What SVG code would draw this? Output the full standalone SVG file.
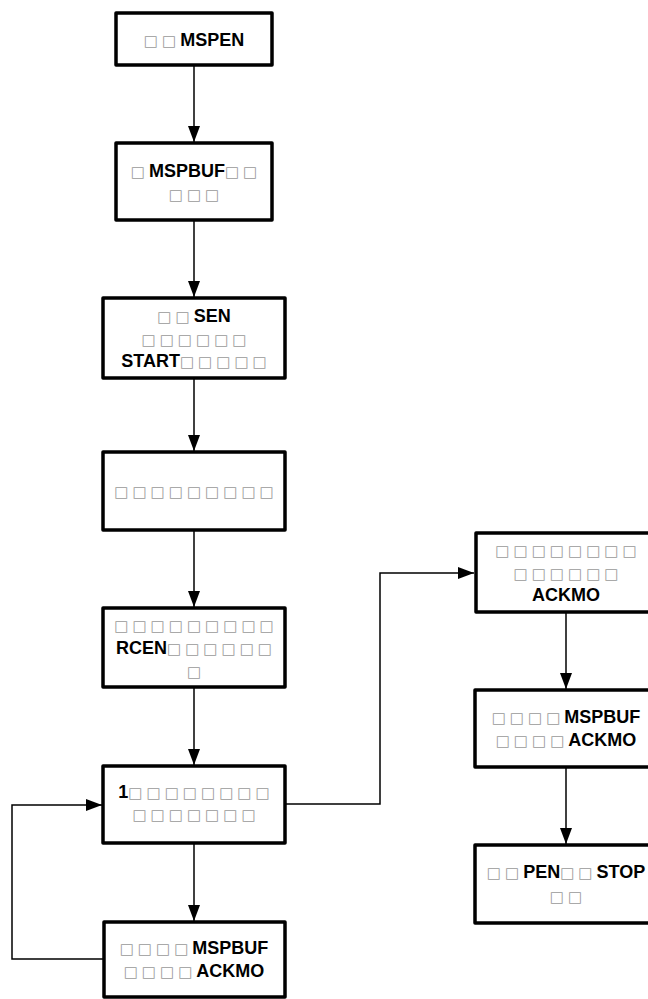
<svg xmlns="http://www.w3.org/2000/svg" width="648" height="999" viewBox="0 0 648 999">
<defs>
<style>
.box{fill:#fff;stroke:#000;stroke-width:3.5;stroke-linejoin:round}
.ln{fill:none;stroke:#000;stroke-width:1.5}
text{font-family:"Liberation Sans",Arial,sans-serif;font-weight:bold;font-size:18px;fill:#000;text-anchor:middle}
.t{font-family:"DejaVu Sans",sans-serif;font-weight:normal;font-size:15px;fill:#9a9a9a;letter-spacing:4px}
</style>
<marker id="ah" viewBox="0 0 16 12" refX="16" refY="6" markerWidth="16" markerHeight="12" markerUnits="userSpaceOnUse" orient="auto">
<path d="M0,0 L16,6 L0,12 Z" fill="#000"/>
</marker>
</defs>
<rect width="648" height="999" fill="#fff"/>
<g id="connectors">
<line class="ln" x1="194" y1="65" x2="194" y2="142" marker-end="url(#ah)"/>
<line class="ln" x1="194" y1="220" x2="194" y2="297" marker-end="url(#ah)"/>
<line class="ln" x1="194" y1="378" x2="194" y2="451" marker-end="url(#ah)"/>
<line class="ln" x1="194" y1="530" x2="194" y2="607" marker-end="url(#ah)"/>
<line class="ln" x1="194" y1="687" x2="194" y2="765" marker-end="url(#ah)"/>
<line class="ln" x1="194" y1="843" x2="194" y2="921" marker-end="url(#ah)"/>
<polyline class="ln" points="104,959 12,959 12,805 102,805" marker-end="url(#ah)"/>
<polyline class="ln" points="285,804 380,804 380,573 474,573" marker-end="url(#ah)"/>
<line class="ln" x1="566" y1="612" x2="566" y2="689" marker-end="url(#ah)"/>
<line class="ln" x1="566" y1="767" x2="566" y2="844" marker-end="url(#ah)"/>
</g>
<g id="n1"><rect class="box" x="116" y="13" width="156" height="52"/>
<text x="194" y="46"><tspan class="t">□□</tspan>MSPEN</text></g>
<g id="n2"><rect class="box" x="116" y="143" width="156" height="77"/>
<text x="196" y="177"><tspan class="t">□</tspan>MSPBUF<tspan class="t">□□</tspan></text>
<text x="196" y="200"><tspan class="t">□□□</tspan></text></g>
<g id="n3"><rect class="box" x="103" y="298" width="182" height="80"/>
<text x="194" y="322"><tspan class="t">□□</tspan>SEN</text>
<text x="196" y="345"><tspan class="t">□□□□□□</tspan></text>
<text x="196" y="367">START<tspan class="t">□□□□□</tspan></text></g>
<g id="n4"><rect class="box" x="103" y="452" width="182" height="78"/>
<text x="196" y="497"><tspan class="t">□□□□□□□□□</tspan></text></g>
<g id="n5"><rect class="box" x="103" y="608" width="182" height="79"/>
<text x="196" y="631"><tspan class="t">□□□□□□□□□</tspan></text>
<text x="196" y="654">RCEN<tspan class="t">□□□□□□</tspan></text>
<text x="196" y="677"><tspan class="t">□</tspan></text></g>
<g id="n6"><rect class="box" x="103" y="766" width="182" height="77"/>
<text x="196" y="798">1<tspan class="t">□□□□□□□□</tspan></text>
<text x="196" y="820"><tspan class="t">□□□□□□□</tspan></text></g>
<g id="n7"><rect class="box" x="104" y="922" width="181" height="75"/>
<text x="194" y="954"><tspan class="t">□□□□</tspan>MSPBUF</text>
<text x="194" y="977"><tspan class="t">□□□□</tspan>ACKMO</text></g>
<g id="r1"><rect class="box" x="476" y="533" width="180" height="79"/>
<text x="568" y="556"><tspan class="t">□□□□□□□□</tspan></text>
<text x="568" y="579"><tspan class="t">□□□□□□</tspan></text>
<text x="566" y="601">ACKMO</text></g>
<g id="r2"><rect class="box" x="475" y="690" width="181" height="77"/>
<text x="566" y="723"><tspan class="t">□□□□</tspan>MSPBUF</text>
<text x="566" y="746"><tspan class="t">□□□□</tspan>ACKMO</text></g>
<g id="r3"><rect class="box" x="475" y="845" width="181" height="78"/>
<text x="566" y="878"><tspan class="t">□□</tspan>PEN<tspan class="t">□□</tspan>STOP</text>
<text x="568" y="902"><tspan class="t">□□</tspan></text></g>
</svg>
